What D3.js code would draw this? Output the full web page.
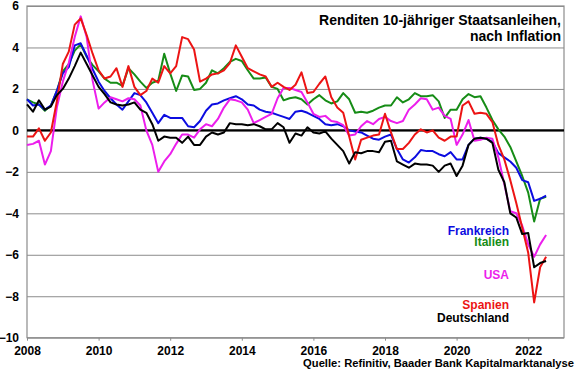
<!DOCTYPE html>
<html>
<head>
<meta charset="utf-8">
<script src="https://cdn.jsdelivr.net/npm/d3@7"></script>
<style>
    body { margin: 0; background: #fff; }
    text { font-family: "Liberation Sans", Arial, sans-serif; font-weight: bold; }
</style>
</head>
<body>
<svg id="chart"></svg>
<script>
// bimonthly observations, first one is Jan 2008
var startYear = 2008;
var perYear = 6;

var frankreich = [1.5, 1.2, 1.25, 1.0, 1.2, 1.9, 2.75, 3.05, 4.1, 4.2, 3.6, 2.95, 2.35, 1.9, 1.55, 1.25,
    1.0, 1.4, 1.8, 1.7, 1.35, 0.85, 0.35, 0.75, 0.6, 0.6, 0.6, 0.2, 0.15, 0.45, 0.95,
    1.25, 1.3, 1.45, 1.55, 1.65, 1.5, 1.25, 1.2, 1.0, 0.9, 0.85, 0.75, 0.65, 0.55, 0.9,
    0.95, 0.85, 0.7, 0.55, 0.3, 0.25, 0.3, 0.2, 0.0, -0.05, -0.1, -0.25, -0.4, -0.45, -0.3,
    -0.2, -0.9, -1.4, -1.55, -1.3, -0.95, -1.0, -1.0, -1.15, -1.25, -1.05,
    -1.4, -1.4, -0.7, -0.4, -0.35, -0.4, -0.55, -1.1, -1.3, -1.5, -1.8, -2.4, -2.5, -3.4, -3.3, -3.15];

var italien = [1.5, 1.35, 1.25, 0.95, 1.2, 1.9, 2.85, 3.2, 3.85, 4.15, 3.55, 3.15, 2.85, 2.5, 2.3, 2.3,
    2.15, 3.0, 2.7, 2.35, 2.05, 2.3, 2.4, 3.7, 2.75, 1.9, 2.65, 2.6, 1.95, 2.0, 2.3,
    2.9, 2.75, 3.0, 3.3, 3.45, 3.35, 2.9, 2.5, 2.5, 2.55, 2.1, 2.0, 1.45, 1.55, 1.6,
    1.5, 1.25, 1.5, 1.7, 1.45, 1.3, 1.4, 1.8, 1.5, 0.85, 0.9, 0.85, 0.95, 1.1, 1.2,
    1.2, 1.6, 1.35, 1.5, 1.8, 1.65, 1.65, 1.7, 1.4, 0.6, 1.0,
    1.0, 1.5, 1.75, 1.6, 1.65, 1.1, 0.5, 0.05, -0.3, -0.8, -1.5, -2.2, -3.0, -4.4, -3.3, -3.2];

var usa = [-0.7, -0.65, -0.5, -1.65, -1.0, 1.1, 2.35, 3.25, 4.5, 5.5, 4.5, 2.4, 1.05, 1.35, 1.6, 1.5,
    1.4, 1.55, 1.5, 1.2, 0.0, -0.7, -2.0, -1.5, -1.15, -0.65, -0.2, -0.2, -0.35, 0.05, 0.3,
    0.2, 0.55, 1.1, 1.5, 1.45, 1.35, 1.0, 0.35, 0.5, 0.65, 0.8, 1.55, 2.05, 2.05, 1.95,
    1.85, 1.35, 0.8, 0.65, 0.7, 0.45, 0.4, 0.25, -0.25, -0.2, 0.2, 0.45, 0.3, 0.55, 0.65,
    0.45, 0.35, 0.45, 1.0, 1.25, 1.55, 1.5, 1.0, 1.1, 0.7, 0.55,
    -0.7, -0.2, 0.5, -0.5, -0.45, -0.35, -0.4, -1.3, -2.6, -3.9, -4.0, -4.6, -5.5, -6.1, -5.5, -5.05];

var spanien = [-0.3, -0.3, 0.1, -0.5, -0.1, 1.4, 3.2, 3.8, 5.1, 5.4, 4.6, 3.7, 2.9, 2.5, 2.6, 3.0,
    2.1, 3.1, 2.1, 1.7, 1.9, 2.5, 2.3, 3.1, 2.75, 3.1, 4.5, 4.4, 3.9, 2.35, 2.5,
    2.7, 2.75, 2.9, 3.25, 4.1, 3.55, 3.0, 2.85, 2.7, 2.6, 2.1, 2.3, 2.1, 1.95, 2.2,
    2.8, 1.8, 1.85, 2.25, 2.6, 1.6, 1.1, 0.85, -0.3, -1.4, -0.45, -0.35, -0.25, -0.2, 0.8,
    -0.1, -0.9, -0.9, -0.6, -0.2, 0.05, -0.1, 0.0, -0.35, -0.5, -0.3,
    -0.3, 1.2, 1.4, 0.8, 0.85, 0.8, 0.4, -0.7, -1.4, -2.4, -3.5, -4.7, -5.9, -8.3, -6.6, -6.1];

var deutschland = [1.25, 0.9, 1.45, 1.0, 1.15, 1.7, 2.0, 2.5, 3.1, 3.75, 3.2, 2.65, 2.1, 1.75, 1.35, 1.25,
    1.2, 1.25, 1.35, 1.0, 0.85, 0.3, -0.5, -0.3, -0.35, -0.35, -0.6, -0.3, -0.7, -0.7, -0.3,
    -0.1, -0.2, -0.1, 0.35, 0.3, 0.3, 0.25, 0.3, 0.2, 0.05, 0.05, 0.35, 0.15, -0.6, -0.15,
    -0.25, 0.15, -0.1, -0.15, -0.05, -0.4, -0.7, -1.0, -1.6, -1.05, -1.1, -1.0, -1.0, -1.05, -0.55,
    -0.5, -1.5, -1.65, -1.8, -1.6, -1.65, -1.65, -1.7, -2.0, -1.7, -1.6,
    -2.2, -1.7, -0.7, -0.4, -0.35, -0.4, -0.6, -1.9, -2.5, -4.0, -4.2, -5.0, -4.95, -6.6, -6.4, -6.3];

var seriesNames = ["Italien", "Frankreich", "USA", "Spanien", "Deutschland"];
var xTicks = [2008, 2010, 2012, 2014, 2016, 2018, 2020, 2022];
var yTicks = [-10, -8, -6, -4, -2, 0, 2, 4, 6];
var titleLines = ["Renditen 10-jähriger Staatsanleihen,", "nach Inflation"];
var sourceText = "Quelle: Refinitiv, Baader Bank Kapitalmarktanalyse";

var colors = {
    Frankreich: "#0c0ce0",
    Italien: "#168c16",
    USA: "#ec1eec",
    Spanien: "#ec1414",
    Deutschland: "#000000"
};
var values = {
    Frankreich: frankreich,
    Italien: italien,
    USA: usa,
    Spanien: spanien,
    Deutschland: deutschland
};
// legend labels, top to bottom, with their baseline
var legendRows = [
    { name: "Frankreich", y: 235 },
    { name: "Italien", y: 246 },
    { name: "USA", y: 278.5 },
    { name: "Spanien", y: 309 },
    { name: "Deutschland", y: 322 }
];

var width = 580, height = 375;
var plot = { left: 27, right: 564, top: 6, bottom: 337.7 };

var svg = d3.select("#chart")
    .attr("width", width)
    .attr("height", height);

var xScale = d3.scaleLinear()
    .domain([2008, 2023])
    .range([plot.left, plot.right]);

var yScale = d3.scaleLinear()
    .domain([-10, 6])
    .range([plot.bottom, plot.top]);

// horizontal gridlines
svg.append("g")
    .attr("class", "grid")
    .attr("transform", "translate(" + plot.left + ",0)")
    .call(d3.axisLeft(yScale)
        .tickValues(yTicks)
        .tickSize(-(plot.right - plot.left))
        .tickFormat(""))
    .call(g => g.select(".domain").remove())
    .call(g => g.selectAll("line").attr("stroke", "#8c8c8c").attr("stroke-width", 1));

// frame
svg.append("rect")
    .attr("x", plot.left)
    .attr("y", plot.top)
    .attr("width", plot.right - plot.left)
    .attr("height", plot.bottom - plot.top)
    .attr("fill", "none")
    .attr("stroke", "#8c8c8c")
    .attr("stroke-width", 1.2);

// y axis labels
svg.append("g")
    .attr("transform", "translate(" + plot.left + ",0)")
    .call(d3.axisLeft(yScale)
        .tickValues(yTicks)
        .tickSize(0)
        .tickPadding(8)
        .tickFormat(d3.format("d")))
    .call(g => g.select(".domain").remove())
    .call(g => g.selectAll("text")
        .attr("font-size", 12)
        .attr("fill", "#000")
        .style("font-family", "Liberation Sans, Arial, sans-serif")
        .style("font-weight", "bold"));

// x axis
svg.append("g")
    .attr("transform", "translate(0," + plot.bottom + ")")
    .call(d3.axisBottom(xScale)
        .tickValues(xTicks)
        .tickSize(3)
        .tickPadding(6)
        .tickFormat(d3.format("d")))
    .call(g => g.select(".domain").remove())
    .call(g => g.selectAll("line").attr("stroke", "#8c8c8c"))
    .call(g => g.selectAll("text")
        .attr("font-size", 12)
        .attr("fill", "#000")
        .style("font-family", "Liberation Sans, Arial, sans-serif")
        .style("font-weight", "bold"));

// zero line
svg.append("line")
    .attr("x1", plot.left)
    .attr("x2", plot.right)
    .attr("y1", yScale(0))
    .attr("y2", yScale(0))
    .attr("stroke", "#000")
    .attr("stroke-width", 2.4);

var line = d3.line()
    .x(function (d, i) { return xScale(startYear + i / perYear); })
    .y(function (d) { return yScale(d); });

svg.selectAll(".series")
    .data(seriesNames)
    .enter()
    .append("path")
    .attr("class", "series")
    .attr("d", function (name) { return line(values[name]); })
    .attr("fill", "none")
    .attr("stroke", function (name) { return colors[name]; })
    .attr("stroke-width", 2)
    .attr("stroke-linejoin", "round");

// title
svg.selectAll(".title")
    .data(titleLines)
    .enter()
    .append("text")
    .attr("class", "title")
    .attr("x", 561)
    .attr("y", function (d, i) { return 24.5 + i * 16; })
    .attr("text-anchor", "end")
    .attr("font-size", 14)
    .text(function (d) { return d; });

// legend
svg.selectAll(".legend")
    .data(legendRows)
    .enter()
    .append("text")
    .attr("class", "legend")
    .attr("x", 509)
    .attr("y", function (d) { return d.y; })
    .attr("text-anchor", "end")
    .attr("font-size", 12)
    .attr("fill", function (d) { return colors[d.name]; })
    .text(function (d) { return d.name; });

svg.append("text")
    .attr("x", 574)
    .attr("y", 367)
    .attr("text-anchor", "end")
    .attr("font-size", 11.2)
    .text(sourceText);
</script>
</body>
</html>
